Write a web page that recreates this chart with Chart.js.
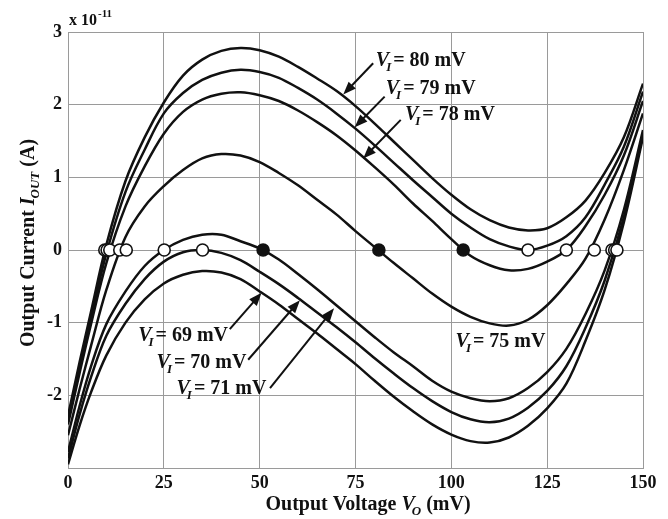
<!DOCTYPE html>
<html>
<head>
<meta charset="utf-8">
<script src="https://cdn.jsdelivr.net/npm/chart.js@4.4.1/dist/chart.umd.min.js"></script>
<style>
  html, body { margin: 0; padding: 0; background: #fff; }
  #wrap { width: 668px; height: 519px; }
</style>
</head>
<body>
<div id="wrap"><canvas id="ivChart"></canvas></div>
<script>
// output voltage grid (mV) shared by all curves
const outputVoltage = [0, 3, 6, 10, 15, 20, 25, 30, 35, 40, 45, 50, 55, 60, 65, 70, 75, 80, 85, 90, 95, 100, 105, 110, 115, 120, 125, 130, 135, 140, 145, 150];

// output current, units of 1e-11 A
const currentVI80 = [-2.28, -1.55, -0.85, 0.07, 0.95, 1.55, 2.03, 2.4, 2.62, 2.74, 2.78, 2.75, 2.66, 2.52, 2.36, 2.19, 1.98, 1.74, 1.49, 1.24, 0.99, 0.76, 0.56, 0.41, 0.31, 0.27, 0.3, 0.45, 0.68, 1.06, 1.55, 2.29];
const currentVI79 = [-2.33, -1.62, -0.93, -0.05, 0.8, 1.38, 1.88, 2.16, 2.34, 2.44, 2.48, 2.45, 2.37, 2.23, 2.07, 1.88, 1.67, 1.44, 1.2, 0.96, 0.73, 0.5, 0.31, 0.15, 0.05, 0.0, 0.06, 0.19, 0.45, 0.9, 1.42, 2.18];
const currentVI78 = [-2.4, -1.7, -1.02, -0.18, 0.6, 1.15, 1.6, 1.9, 2.07, 2.15, 2.17, 2.13, 2.05, 1.92, 1.76, 1.58, 1.37, 1.14, 0.9, 0.64, 0.4, 0.15, -0.08, -0.21, -0.28, -0.26, -0.16, 0.0, 0.33, 0.76, 1.3, 2.05];
const currentVI75 = [-2.55, -1.92, -1.32, -0.55, 0.18, 0.6, 0.88, 1.1, 1.26, 1.32, 1.3, 1.21, 1.06, 0.89, 0.69, 0.49, 0.26, 0.04, -0.18, -0.39, -0.6, -0.78, -0.92, -1.01, -1.04, -0.96, -0.76, -0.47, -0.12, 0.42, 1.1, 1.88];
const currentVI71 = [-2.78, -2.15, -1.6, -1.02, -0.57, -0.22, 0.0, 0.14, 0.21, 0.21, 0.12, 0.02, -0.13, -0.33, -0.54, -0.76, -0.98, -1.2, -1.41, -1.6, -1.8, -1.95, -2.04, -2.08, -2.04, -1.9, -1.68, -1.36, -0.88, -0.28, 0.55, 1.65];
const currentVI70 = [-2.87, -2.27, -1.75, -1.18, -0.74, -0.4, -0.16, -0.03, 0.0, -0.04, -0.14, -0.3, -0.47, -0.66, -0.86, -1.06, -1.27, -1.49, -1.7, -1.9, -2.08, -2.23, -2.33, -2.37, -2.32, -2.17, -1.94, -1.6, -1.07, -0.42, 0.45, 1.6];
const currentVI69 = [-2.95, -2.42, -1.96, -1.45, -1.0, -0.68, -0.46, -0.34, -0.29, -0.31, -0.4, -0.57, -0.75, -0.95, -1.15, -1.36, -1.57, -1.8, -2.02, -2.22, -2.4, -2.54, -2.63, -2.65, -2.58, -2.42, -2.18, -1.84, -1.25, -0.55, 0.38, 1.55];

// zero crossings: stable (open) and unstable (filled) points
const stableZerosVo = [9.6, 10.2, 10.9, 13.5, 15.2, 25.1, 35.1, 120, 130, 137.3, 141.9, 142.6, 143.2];
const unstableZerosVo = [50.9, 81.1, 103.1];

const xTickValues = [0, 25, 50, 75, 100, 125, 150];
const yTickValues = [-3, -2, -1, 0, 1, 2, 3];
const yTickLabels = ['', '-2', '-1', '0', '1', '2', '3'];

// curve labels (mV) and where they sit, in data units
const labelValues = ['80', '79', '78', '75', '69', '70', '71'];
const labelAtVo = [80.3, 82.9, 87.9, 101.1, 18.3, 23.1, 28.3];
const labelAtI = [2.53, 2.145, 1.795, -1.335, -1.253, -1.63, -1.975];
const arrowFromVo = [79.6, 82.6, 86.8, null, 42.2, 47.0, 52.7];
const arrowFromI = [2.57, 2.11, 1.79, null, -1.09, -1.51, -1.9];
const arrowToVo = [71.8, 74.8, 77.0, null, 50.5, 60.5, 69.4];
const arrowToI = [2.14, 1.69, 1.26, null, -0.59, -0.69, -0.8];

const serif = "'Liberation Serif', 'Times New Roman', serif";
const fontOf = (size, italic) => `${italic ? 'italic ' : ''}bold ${size}px ${serif}`;

function runsWidth(ctx, runs) {
  return runs.reduce((w, r) => {
    ctx.font = fontOf(r.size, r.italic);
    return w + ctx.measureText(r.text).width + (r.dx || 0);
  }, 0);
}

function drawRuns(ctx, runs, x, y) {
  let cx = x;
  runs.forEach((r) => {
    ctx.font = fontOf(r.size, r.italic);
    cx += r.dx || 0;
    ctx.fillText(r.text, cx, y + (r.dy || 0));
    cx += ctx.measureText(r.text).width;
  });
}

function drawArrow(ctx, x1, y1, x2, y2) {
  const a = Math.atan2(y2 - y1, x2 - x1);
  const head = 13;
  const half = 5;
  ctx.beginPath();
  ctx.moveTo(x1, y1);
  ctx.lineTo(x2 - head * 0.8 * Math.cos(a), y2 - head * 0.8 * Math.sin(a));
  ctx.stroke();
  const bx = x2 - head * Math.cos(a);
  const by = y2 - head * Math.sin(a);
  ctx.beginPath();
  ctx.moveTo(x2, y2);
  ctx.lineTo(bx + half * Math.sin(a), by - half * Math.cos(a));
  ctx.lineTo(bx - half * Math.sin(a), by + half * Math.cos(a));
  ctx.closePath();
  ctx.fill();
}

const viLabel = (v) => [
  { text: 'V', size: 20, italic: true },
  { text: 'I', size: 13, italic: true, dy: 5, dx: -3 },
  { text: '= ' + v + ' mV', size: 20, dx: 2 }
];

const figureText = {
  id: 'figureText',
  afterDraw(chart) {
    const { ctx, chartArea, scales } = chart;
    const x = scales.x;
    const y = scales.y;
    ctx.save();
    ctx.fillStyle = '#111';
    ctx.strokeStyle = '#111';
    ctx.lineWidth = 2;
    ctx.textBaseline = 'alphabetic';
    ctx.textAlign = 'left';

    // exponent
    drawRuns(ctx, [
      { text: 'x 10', size: 16 },
      { text: '-11', size: 11, dy: -8, dx: 1 }
    ], chartArea.left + 1, chartArea.top - 7);

    // x title
    const xt = [
      { text: 'Output Voltage ', size: 20 },
      { text: 'V', size: 20, italic: true },
      { text: 'O', size: 13, italic: true, dy: 5, dx: -3 },
      { text: ' (mV)', size: 20 }
    ];
    drawRuns(ctx, xt, 368 - runsWidth(ctx, xt) / 2, chartArea.bottom + 42);

    // y title
    const yt = [
      { text: 'Output Current ', size: 20 },
      { text: 'I', size: 20, italic: true },
      { text: 'OUT', size: 13, italic: true, dy: 5, dx: -1 },
      { text: ' (A)', size: 20 }
    ];
    ctx.save();
    ctx.translate(chartArea.left - 34, 243);
    ctx.rotate(-Math.PI / 2);
    drawRuns(ctx, yt, -runsWidth(ctx, yt) / 2, 0);
    ctx.restore();

    // curve labels and arrows
    labelValues.forEach((v, i) => {
      drawRuns(ctx, viLabel(v), x.getPixelForValue(labelAtVo[i]), y.getPixelForValue(labelAtI[i]));
      if (arrowFromVo[i] !== null) {
        drawArrow(ctx,
          x.getPixelForValue(arrowFromVo[i]), y.getPixelForValue(arrowFromI[i]),
          x.getPixelForValue(arrowToVo[i]), y.getPixelForValue(arrowToI[i]));
      }
    });
    ctx.restore();
  }
};

const curve = (values) => ({
  data: outputVoltage.map((vo, i) => ({ x: vo, y: values[i] })),
  showLine: true,
  borderColor: '#111',
  borderWidth: 2.5,
  pointRadius: 0,
  tension: 0.35,
  order: 1
});

const zeros = (list, fill) => ({
  data: list.map((vo) => ({ x: vo, y: 0 })),
  showLine: false,
  pointRadius: 6,
  pointBorderWidth: 1.6,
  pointBackgroundColor: fill,
  pointBorderColor: '#111',
  order: 0
});

new Chart(document.querySelector('#ivChart'), {
  type: 'scatter',
  data: {
    datasets: [
      curve(currentVI80),
      curve(currentVI79),
      curve(currentVI78),
      curve(currentVI75),
      curve(currentVI71),
      curve(currentVI70),
      curve(currentVI69),
      zeros(stableZerosVo, '#fff'),
      zeros(unstableZerosVo, '#111')
    ]
  },
  options: {
    responsive: true,
    maintainAspectRatio: false,
    animation: false,
    devicePixelRatio: 1,
    layout: { padding: { top: 32, right: 25, left: 0, bottom: 0 } },
    plugins: {
      legend: { display: false },
      tooltip: { enabled: false }
    },
    scales: {
      x: {
        type: 'linear',
        min: 0,
        max: 150,
        afterBuildTicks: (axis) => { axis.ticks = xTickValues.map((v) => ({ value: v })); },
        afterFit: (axis) => { axis.height = 51; },
        ticks: {
          color: '#111',
          padding: 5,
          maxRotation: 0,
          font: { family: serif, size: 18, weight: 'bold' }
        },
        grid: { color: '#9a9a9a', lineWidth: 1, drawTicks: false },
        border: { color: '#9a9a9a' }
      },
      y: {
        type: 'linear',
        min: -3,
        max: 3,
        afterBuildTicks: (axis) => { axis.ticks = yTickValues.map((v) => ({ value: v })); },
        afterFit: (axis) => { axis.width = 68; },
        ticks: {
          color: '#111',
          padding: 6,
          font: { family: serif, size: 18, weight: 'bold' },
          callback: (value) => yTickLabels[yTickValues.indexOf(value)]
        },
        grid: { color: '#9a9a9a', lineWidth: 1, drawTicks: false },
        border: { color: '#9a9a9a' }
      }
    }
  },
  plugins: [figureText]
});
</script>
</body>
</html>
